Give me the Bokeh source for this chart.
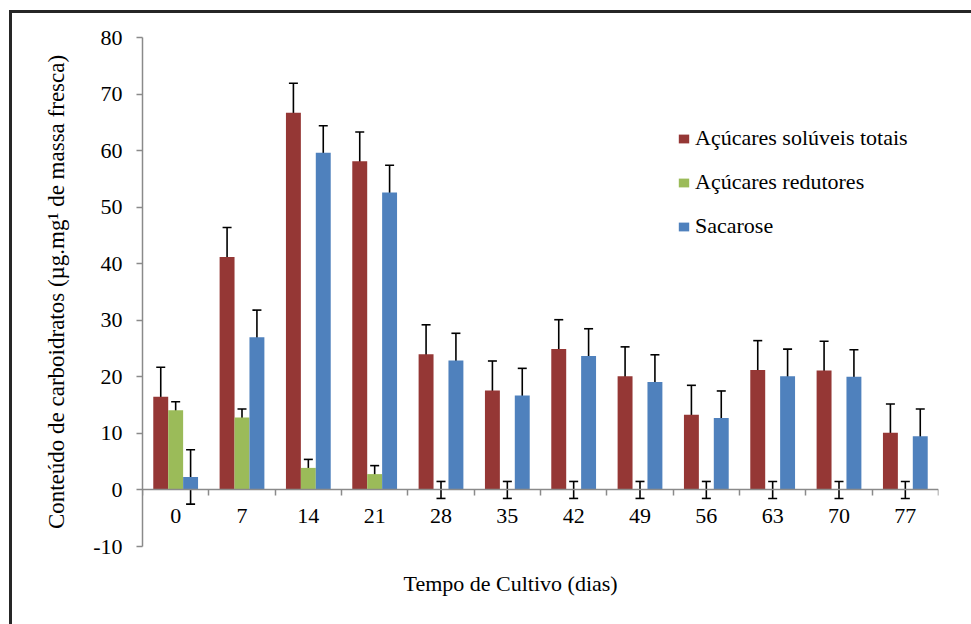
from bokeh.plotting import figure
from bokeh.models import (Range1d, FixedTicker, LinearAxis, Whisker, TeeHead, Title,
                          ColumnDataSource, Legend, LegendItem, InlineStyleSheet)
from bokeh.transform import dodge
from bokeh.embed import file_html
from bokeh.resources import INLINE

# ---- data ----
days = [0, 7, 14, 21, 28, 35, 42, 49, 56, 63, 70, 77]
tick_labels = [str(d) for d in days]
y_ticks = [-10, 0, 10, 20, 30, 40, 50, 60, 70, 80]
y_tick_labels = ["-10", "0", "10", "20", "30", "40", "50", "60", "70", "80"]
series_names = ["Açúcares solúveis totais", "Açúcares redutores", "Sacarose"]
totais = [16.5, 41.2, 66.7, 58.1, 24.0, 17.6, 24.9, 20.1, 13.3, 21.2, 21.1, 10.1]
totais_err = [5.2, 5.2, 5.2, 5.2, 5.2, 5.2, 5.2, 5.2, 5.2, 5.2, 5.2, 5.1]
redutores = [14.1, 12.8, 3.9, 2.8, 0, 0, 0, 0, 0, 0, 0, 0]
redutores_err = [1.5, 1.5, 1.5, 1.5, 1.5, 1.5, 1.5, 1.5, 1.5, 1.5, 1.5, 1.5]
sacarose = [2.3, 27.0, 59.6, 52.6, 22.9, 16.7, 23.7, 19.1, 12.7, 20.1, 20.0, 9.5]
sacarose_err = [4.8, 4.8, 4.8, 4.8, 4.8, 4.8, 4.8, 4.8, 4.8, 4.8, 4.8, 4.8]
colors = ["#953735", "#9BBB59", "#4F81BD"]

FONT = "Liberation Serif"
FS = "22px"
step = days[1] - days[0]
bw = 0.225 * step

src = ColumnDataSource(dict(
    day=days,
    t=totais, t_hi=[v + e for v, e in zip(totais, totais_err)], t_lo=[v - e for v, e in zip(totais, totais_err)],
    r=redutores, r_hi=[v + e for v, e in zip(redutores, redutores_err)], r_lo=[v - e for v, e in zip(redutores, redutores_err)],
    s=sacarose, s_hi=[v + e for v, e in zip(sacarose, sacarose_err)], s_lo=[v - e for v, e in zip(sacarose, sacarose_err)],
))

border_css = InlineStyleSheet(css="""
:host::after {
  content: "";
  position: absolute;
  left: 9px; top: 10px; right: 0px; bottom: 0px;
  border-left: 3px solid #262626;
  border-top: 3px solid #262626;
  pointer-events: none;
}
""")

p = figure(width=971, height=624, output_backend="svg", toolbar_location=None,
           x_range=Range1d(days[0] - step / 2, days[-1] + step / 2),
           y_range=Range1d(-10, 80),
           x_axis_location=None,
           min_border_left=142, min_border_right=33, min_border_top=37, min_border_bottom=78,
           stylesheets=[border_css])
p.outline_line_color = None
p.xgrid.grid_line_color = None
p.ygrid.grid_line_color = None
p.background_fill_color = "white"
p.border_fill_color = "white"

# x-axis title (first item below the frame)
p.add_layout(Title(text="Tempo de Cultivo (dias)", align="left", offset=261, standoff=44,
                   text_font=FONT, text_font_size=FS, text_font_style="normal",
                   text_color="black"), "below")

# y axis
ya = p.yaxis[0]
ya.ticker = FixedTicker(ticks=y_ticks)
ya.major_label_overrides = {t: l for t, l in zip(y_ticks, y_tick_labels)}
ya.axis_line_color = "#8a8a8a"
ya.axis_line_width = 1.5
ya.major_tick_line_color = "#8a8a8a"
ya.major_tick_line_width = 1.5
ya.major_tick_out = 6
ya.major_tick_in = 0
ya.minor_tick_line_color = None
ya.major_label_text_font = FONT
ya.major_label_text_font_size = FS
ya.major_label_text_color = "black"
ya.major_label_standoff = 14
ya.axis_label = "Conteúdo de carboidratos (µg.mg¹ de massa fresca)"
ya.axis_label_text_font = FONT
ya.axis_label_text_font_size = "23px"
ya.axis_label_text_font_style = "normal"
ya.axis_label_text_color = "black"
ya.axis_label_standoff = 21

# x axis at y=0: tick marks at category boundaries
bounds = [d - step / 2 for d in days] + [days[-1] + step / 2]
xa_ticks = LinearAxis(ticker=FixedTicker(ticks=bounds), fixed_location=0,
                      axis_line_color="#8a8a8a", axis_line_width=1.5,
                      major_tick_line_color="#8a8a8a", major_tick_line_width=1.5,
                      major_tick_out=6, major_tick_in=0, minor_tick_line_color=None,
                      major_label_text_font_size="0px", major_label_text_alpha=0)
xa_labels = LinearAxis(ticker=FixedTicker(ticks=days), fixed_location=0,
                       axis_line_color=None, major_tick_line_color=None,
                       minor_tick_line_color=None,
                       major_label_overrides={d: l for d, l in zip(days, tick_labels)},
                       major_label_text_font=FONT, major_label_text_font_size=FS,
                       major_label_text_color="black", major_label_standoff=13)
p.add_layout(xa_ticks, "below")
p.add_layout(xa_labels, "below")

# bars
r1 = p.vbar(x=dodge("day", -bw, range=p.x_range), top="t", width=bw, source=src,
            fill_color=colors[0], line_color=None)
r2 = p.vbar(x=dodge("day", 0, range=p.x_range), top="r", width=bw, source=src,
            fill_color=colors[1], line_color=None)
r3 = p.vbar(x=dodge("day", bw, range=p.x_range), top="s", width=bw, source=src,
            fill_color=colors[2], line_color=None)

for off, hi, lo in [(-bw, "t_hi", "t_lo"), (0, "r_hi", "r_lo"), (bw, "s_hi", "s_lo")]:
    w = Whisker(base=dodge("day", off, range=p.x_range), upper=hi, lower=lo, source=src,
                line_color="black", line_width=1.6,
                upper_head=TeeHead(size=9, line_color="black", line_width=1.6),
                lower_head=TeeHead(size=9, line_color="black", line_width=1.6))
    p.add_layout(w)

legend = Legend(items=[LegendItem(label=series_names[0], renderers=[r1]),
                       LegendItem(label=series_names[1], renderers=[r2]),
                       LegendItem(label=series_names[2], renderers=[r3])],
                location=(535, 307), orientation="vertical",
                glyph_width=13, glyph_height=11, label_standoff=5, spacing=18,
                padding=0, margin=0, border_line_color=None, background_fill_alpha=0,
                label_text_font=FONT, label_text_font_size=FS, label_text_color="black")
p.add_layout(legend, "center")

open("out.html", "w").write(file_html(p, INLINE))
